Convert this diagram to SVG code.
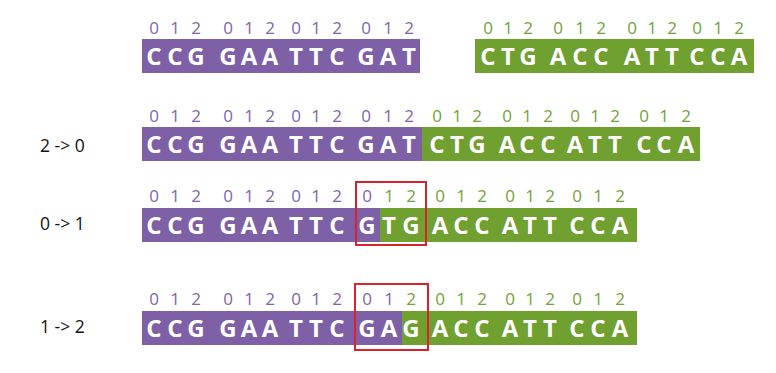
<svg xmlns="http://www.w3.org/2000/svg" width="776" height="373" viewBox="0 0 776 373">
<style>
.bg{fill:#ffffff}
.pb{fill:#7d60a6}
.gb{fill:#6fa030}
.let{font-family:"Open Sans","Liberation Sans",sans-serif;font-weight:bold;font-size:24px;fill:#ffffff;text-anchor:middle}
.pd{font-family:"Open Sans","Liberation Sans",sans-serif;font-size:17px;fill:#7e66a8;text-anchor:middle}
.gd{font-family:"Open Sans","Liberation Sans",sans-serif;font-size:17px;fill:#72a23a;text-anchor:middle}
.lab{font-family:"Open Sans","Liberation Sans",sans-serif;font-size:17.5px;fill:#111111}
.red{fill:none;stroke:#d8232a;stroke-width:2}
</style>
<rect class="bg" x="0" y="0" width="776" height="373"/>

<g id="row1-purple">
<rect class="pb" x="142" y="39" width="278" height="34"/>
<text class="pd" y="34" x="154 164 175 185 196 212 228 238 249 259 270 283 296 306 316 326 337 351 366 377 388 398 409">0 1 2 0 1 2 0 1 2 0 1 2</text>
<text class="let" y="64.5" x="154 175 196 212 228 249 270 283 296 316 337 351 366 388 409">CCG GAA TTC GAT</text>
</g>
<g id="row1-green">
<rect class="gb" x="475" y="39" width="279" height="34"/>
<text class="gd" y="34" x="488 498 508 518 528 543 558 569 580 590 601 616 632 642 652 662 672 684 697 707 718 728 739">0 1 2 0 1 2 0 1 2 0 1 2</text>
<text class="let" y="64.5" x="488 508 528 543 558 580 601 616 632 652 672 684 697 718 739">CTG ACC ATT CCA</text>
</g>

<g id="row2">
<text class="lab" x="40" y="152">2 -&gt; 0</text>
<rect class="pb" x="142" y="127" width="280" height="34"/>
<rect class="gb" x="422" y="127" width="278" height="34"/>
<text class="pd" y="122" x="154 164 175 185 196 212 228 238 249 259 270 283 296 306 316 326 337 351 366 377 388 398 409">0 1 2 0 1 2 0 1 2 0 1 2</text>
<text class="let" y="153" x="154 175 196 212 228 249 270 283 296 316 337 351 366 388 409">CCG GAA TTC GAT</text>
<text class="gd" y="122" x="437 447 457 467 477 492 507 517 527 537 548 561 575 585 595 605 615 630 644 654 664 675 686">0 1 2 0 1 2 0 1 2 0 1 2</text>
<text class="let" y="153" x="437 457 477 492 507 527 548 561 575 595 615 630 644 664 686">CTG ACC ATT CCA</text>
</g>

<g id="row3">
<text class="lab" x="40" y="230">0 -&gt; 1</text>
<rect class="pb" x="142" y="208" width="238" height="34"/>
<rect class="gb" x="380" y="208" width="257" height="34"/>
<text class="pd" y="202" x="154 164 175 185 196 212 228 238 249 259 270 283 296 306 316 326 337 351 367">0 1 2 0 1 2 0 1 2 0</text>
<text class="let" y="233.5" x="154 175 196 212 228 249 270 283 296 316 337 351 367">CCG GAA TTC G</text>
<text class="gd" y="202" x="389 400 411 425 440 450 461 471 482 496 510 520 530 540 550 563 577 587 598 609 620">1 2 0 1 2 0 1 2 0 1 2</text>
<text class="let" y="233.5" x="389 411 425 440 461 482 496 510 530 550 563 577 598 620">TG ACC ATT CCA</text>
</g>
<g id="highlight3">
<rect class="red" x="356" y="182" width="70" height="63"/>
</g>

<g id="row4">
<text class="lab" x="40" y="333">1 -&gt; 2</text>
<rect class="pb" x="142" y="311" width="260" height="34"/>
<rect class="gb" x="402" y="311" width="235" height="34"/>
<text class="pd" y="305" x="154 164 175 185 196 212 228 238 249 259 270 283 296 306 316 326 337 351 367 378 389">0 1 2 0 1 2 0 1 2 0 1</text>
<text class="let" y="336.5" x="154 175 196 212 228 249 270 283 296 316 337 351 367 389">CCG GAA TTC GA</text>
<text class="gd" y="305" x="411 425 440 450 461 471 482 496 510 520 530 540 550 563 577 587 598 609 620">2 0 1 2 0 1 2 0 1 2</text>
<text class="let" y="336.5" x="411 425 440 461 482 496 510 530 550 563 577 598 620">G ACC ATT CCA</text>
</g>
<g id="highlight4">
<rect class="red" x="355" y="284" width="73" height="66"/>
</g>

<g id="connectors"></g>
</svg>
